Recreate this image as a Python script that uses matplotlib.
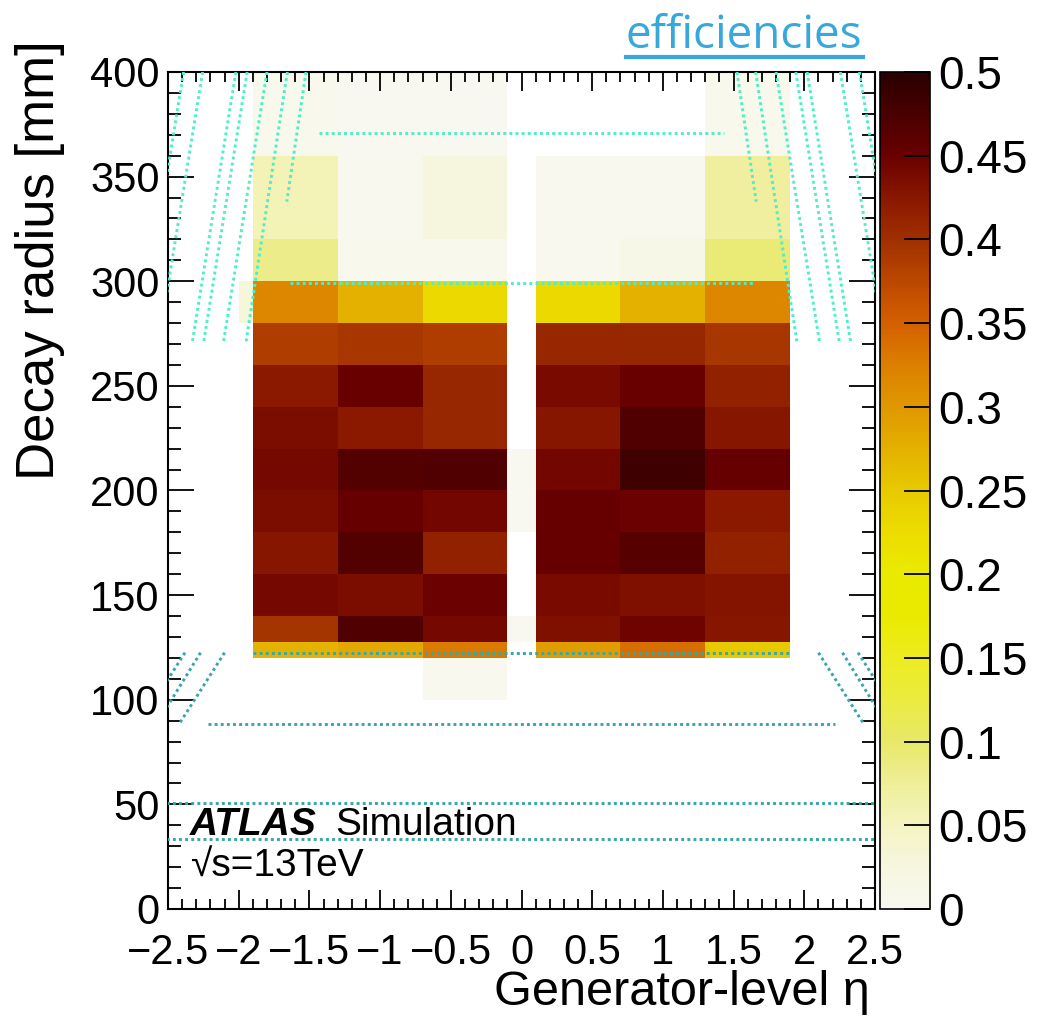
import numpy as np
import matplotlib
matplotlib.use("Agg")
import matplotlib.pyplot as plt
from matplotlib.colors import LinearSegmentedColormap
from matplotlib.ticker import MultipleLocator
from matplotlib.lines import Line2D

plt.rcParams['font.family'] = ['Liberation Sans', 'DejaVu Sans']

nan = np.nan

# histogram binning
eta_edges = [-2.0, -1.9, -1.3, -0.7, -0.1, 0.1, 0.7, 1.3, 1.9]
r_edges = [100, 120, 127.5, 140, 160, 180, 200, 220, 240, 260, 280, 300, 320, 360, 400]

# efficiency per eta column, rows from r=100 upwards
eff_m20_m19 = [nan, nan, nan, nan, nan, nan, nan, nan, nan, nan, 0.030, nan, nan, nan]
eff_m19_m13 = [nan, 0.273, 0.396, 0.441, 0.427, 0.436, 0.441, 0.436, 0.423, 0.386, 0.317, 0.083, 0.055, 0.004]
eff_m13_m07 = [nan, 0.283, 0.470, 0.436, 0.467, 0.452, 0.467, 0.423, 0.450, 0.394, 0.275, 0.005, 0.002, 0.001]
eff_m07_m01 = [0.002, 0.330, 0.441, 0.449, 0.416, 0.442, 0.470, 0.409, 0.409, 0.386, 0.230, 0.006, 0.027, 0.001]
eff_m01_p01 = [nan, nan, 0.001, nan, nan, 0.001, 0.001, nan, nan, nan, nan, nan, nan, nan]
eff_p01_p07 = [nan, 0.296, 0.433, 0.439, 0.452, 0.452, 0.442, 0.427, 0.439, 0.409, 0.230, 0.003, 0.002, nan]
eff_p07_p13 = [nan, 0.338, 0.446, 0.433, 0.464, 0.449, 0.483, 0.470, 0.450, 0.409, 0.275, 0.015, 0.003, nan]
eff_p13_p19 = [nan, 0.250, 0.427, 0.428, 0.416, 0.423, 0.453, 0.427, 0.416, 0.394, 0.317, 0.092, 0.072, 0.004]

# detector geometry overlay (ATLAS inner detector)
pix_layer_r = [33.25, 50.5, 88.5, 122.5]
pix_layer_eta = [2.6, 2.6, 2.22, 1.9]
sct_layer_r = [299, 371]
sct_layer_eta = [1.635, 1.43]
pix_disk_eta_top = [2.38, 2.27, 2.10]      # at r = 122.5
pix_disk_eta_bot = [2.70, 2.58, 2.42]      # at r = 88.5
sct_disk_eta_top = [2.39, 2.255, 2.02, 1.94, 1.80, 1.656, 1.524]   # at r = 400
sct_disk_eta_bot = [2.70, 2.567, 2.33, 2.25, 2.11, 1.95, 1.66]
sct_disk_r_bot = [270, 270, 270, 270, 270, 270, 338]

cmap_colors = [(0.0, '#f8f8f0'), (0.05, '#f6f6e0'), (0.10, '#f4f4c0'), (0.15, '#eeee98'),
               (0.20, '#e8e868'), (0.25, '#ebeb40'), (0.30, '#ecec20'), (0.35, '#eaea00'),
               (0.40, '#eaea00'), (0.45, '#ecdc00'), (0.50, '#e7ca00'), (0.55, '#e4b000'),
               (0.60, '#e09800'), (0.65, '#dc8000'), (0.70, '#d46000'), (0.75, '#bc4800'),
               (0.80, '#a03000'), (0.85, '#8a1800'), (0.90, '#6a0000'), (0.95, '#4a0000'),
               (1.0, '#2a0000')]
cmap = LinearSegmentedColormap.from_list('eff', cmap_colors, N=256)

Z = np.ma.masked_invalid(np.array([eff_m20_m19, eff_m19_m13, eff_m13_m07, eff_m07_m01,
                                   eff_m01_p01, eff_p01_p07, eff_p07_p13, eff_p13_p19]).T)

W, H = 1040, 1035
fig = plt.figure(figsize=(W / 100, H / 100), dpi=100)
ax = fig.add_axes([168 / W, 1 - 909 / H, 707 / W, 837 / H])
cax = fig.add_axes([880 / W, 1 - 909 / H, 50 / W, 837 / H])

mesh = ax.pcolormesh(eta_edges, r_edges, Z, cmap=cmap, vmin=0, vmax=0.5)

sct_col = '#50eec8'
pix_col = '#38a6a8'
dots = (0, (1, 1.1))
for side in (-1, 1):
    for top, bot in zip(pix_disk_eta_top, pix_disk_eta_bot):
        ax.plot([side * top, side * bot], [122.5, 88.5], color=pix_col, lw=2.1, ls=dots, zorder=3)
    for top, bot, rb in zip(sct_disk_eta_top, sct_disk_eta_bot, sct_disk_r_bot):
        ax.plot([side * top, side * bot], [400, rb], color=sct_col, lw=2.1, ls=dots, zorder=3)
for r, e in zip(pix_layer_r, pix_layer_eta):
    ax.plot([-e, e], [r, r], color=pix_col, lw=2.1, ls=dots, zorder=3)
for r, e in zip(sct_layer_r, sct_layer_eta):
    ax.plot([-e, e], [r, r], color=sct_col, lw=2.1, ls=dots, zorder=3)

ax.set_xlim(-2.5, 2.5)
ax.set_ylim(0, 400)
ax.xaxis.set_minor_locator(MultipleLocator(0.1))
ax.yaxis.set_major_locator(MultipleLocator(50))
ax.yaxis.set_minor_locator(MultipleLocator(10))
ax.set_xticks(np.arange(-2.5, 2.51, 0.5))
ax.set_xticklabels(['\u22122.5', '\u22122', '\u22121.5', '\u22121', '\u22120.5', '0',
                    '0.5', '1', '1.5', '2', '2.5'])
ax.tick_params(which='both', direction='in', top=True, right=True, width=1.3, labelsize=30)
ax.tick_params(axis='x', which='major', length=14, pad=17)
ax.tick_params(axis='x', which='minor', length=7)
ax.tick_params(axis='y', which='major', length=19, pad=6)
ax.tick_params(axis='y', which='minor', length=9.5)
for s in ax.spines.values():
    s.set_linewidth(1.5)

cb = fig.colorbar(mesh, cax=cax)
cb.set_ticks(np.arange(0, 0.501, 0.05))
cb.set_ticklabels(['0', '0.05', '0.1', '0.15', '0.2', '0.25', '0.3', '0.35', '0.4', '0.45', '0.5'])
cax.tick_params(direction='in', length=19, width=1.3, labelsize=33, pad=6)
cb.outline.set_linewidth(1.2)

fig.text(40 / W, 1 - 40 / H, 'Decay radius [mm]', rotation=90, ha='center', va='top', fontsize=38)
fig.text(870 / W, 1 - 1005 / H, 'Generator-level \u03b7', ha='right', va='baseline', fontsize=35)

ax.text(0.031, 0.088, 'ATLAS', transform=ax.transAxes, fontsize=28,
        fontweight='bold', fontstyle='italic', va='baseline')
ax.text(0.237, 0.088, 'Simulation', transform=ax.transAxes, fontsize=28, va='baseline')
ax.text(0.031, 0.039, '\u221as=13TeV', transform=ax.transAxes, fontsize=28, va='baseline')

title = fig.text(626 / W, 1 - 48 / H, 'efficiencies', color='#38a8dc', fontsize=33,
                 family=['Open Sans', 'DejaVu Sans'], va='baseline')
fig.canvas.draw()
bb = title.get_window_extent()
fig.add_artist(Line2D([bb.x0 / W, bb.x1 / W], [1 - 57 / H, 1 - 57 / H],
                      transform=fig.transFigure, color='#38a8dc', lw=3))

fig.savefig('out.png', dpi=100)
